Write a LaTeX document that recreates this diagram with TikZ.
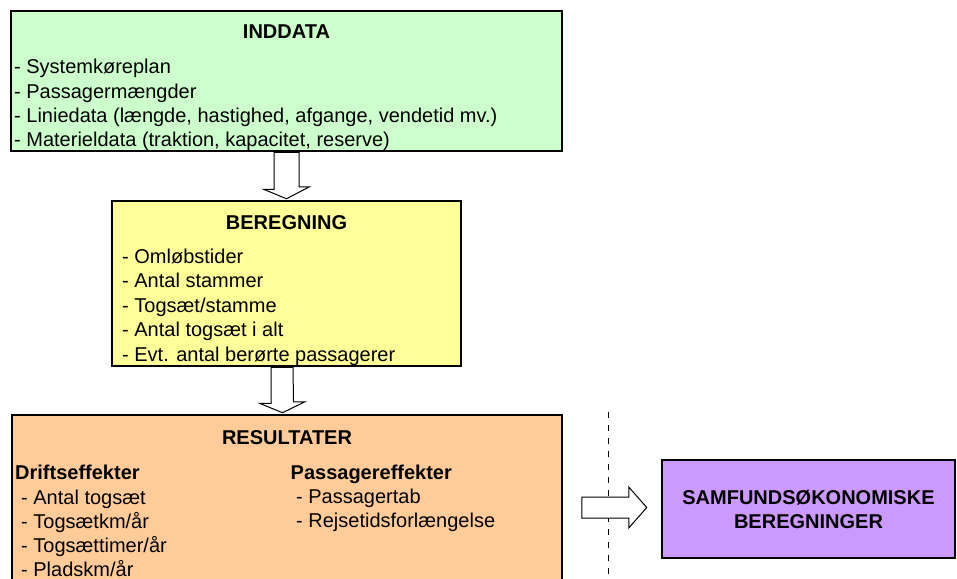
\documentclass[tikz,border=0pt]{standalone}
\usepackage{fontspec}
\setmainfont{Liberation Sans}
\newcommand\diafont{\fontsize{20}{24}\selectfont}
\definecolor{inngreen}{HTML}{CCFFCC}
\definecolor{beregyellow}{HTML}{FFFF99}
\definecolor{resorange}{HTML}{FFCC99}
\definecolor{samfpurple}{HTML}{CC99FF}
\tikzset{
  box/.style={draw,line width=2.5pt,inner sep=0pt},
  title/.style={anchor=base,inner sep=0pt,font=\diafont\bfseries},
  item/.style={anchor=base west,inner sep=0pt,font=\diafont},
  head/.style={item,font=\diafont\bfseries},
  blockarrow/.style={draw,fill=white,line width=1pt,line join=miter},
  sepline/.style={line width=1pt,dash pattern=on 6pt off 7pt}
}
\begin{document}
\begin{tikzpicture}[x=1pt,y=-1pt]
        \useasboundingbox (0,0) rectangle (957,578);
        \clip (0,0) rectangle (957,578);
        %% boxes
        \node[box,fill=inngreen,minimum width=551pt,minimum height=140pt] (inn) at (286.5,81) {};
        \node[box,fill=beregyellow,minimum width=349pt,minimum height=165pt] (beregn) at (286.5,283.5) {};
        \node[box,fill=resorange,minimum width=550pt,minimum height=205pt] (res) at (287,517.5) {};
        \node[box,fill=samfpurple,minimum width=293pt,minimum height=98pt,align=center,font=\diafont\bfseries] (samf) at (808.5,509) {SAMFUNDSØKONOMISKE\\BEREGNINGER};
        %% inddata
        \node[title] (inn-title) at (286.5,38) {INDDATA};
        \foreach \txt [count=\i] in {Systemkøreplan,Passagermængder,{Liniedata (længde, hastighed, afgange, vendetid mv.)},{Materieldata (traktion, kapacitet, reserve)}}
            \node[item] (inn-\i) at (14,50+24*\i) {- \txt};
        %% beregning
        \node[title] (beregn-title) at (286.5,229) {BEREGNING};
        \foreach \txt [count=\i] in {Omløbstider,Antal stammer,Togsæt/stamme,Antal togsæt i alt,Evt. antal berørte passagerer}
            \node[item] (beregn-\i) at (122,238.5+24.5*\i) {- \txt};
        %% resultater
        \node[title] (res-title) at (287,444) {RESULTATER};
        \node[head] (drift) at (15,479) {Driftseffekter};
        \foreach \txt [count=\i] in {Antal togsæt,Togsætkm/år,Togsættimer/år,Pladskm/år}
            \node[item] (drift-\i) at (21,480+24*\i) {- \txt};
        \node[head] (pass) at (290.5,479) {Passagereffekter};
        \foreach \txt [count=\i] in {Passagertab,Rejsetidsforlængelse}
            \node[item] (pass-\i) at (296,479.5+24*\i) {- \txt};
        %% separator
        \draw[sepline] (608,412) -- (608,590);
        %% block arrows
        \draw[blockarrow] ([xshift=-12.5pt]inn.south) -- ++(0,37) -- ++(-10.5,0) -- ([yshift=1pt]beregn.north) -- ++(23,-12) -- ++(-10.5,0) -- ([xshift=12.5pt]inn.south) -- cycle;
        \draw[blockarrow] ([xshift=-15.5pt]beregn.south) -- ++(0,36) -- ++(-11.5,0) -- ([xshift=-4.5pt,yshift=1pt]res.north) -- ++(22.5,-11) -- ++(-11.5,0) -- ([xshift=6.5pt]beregn.south) -- cycle;
        \draw[blockarrow] ([xshift=-14pt,yshift=1.5pt]samf.west) -- ++(-18,-20.5) -- ++(0,10) -- ++(-47,0) -- ++(0,21) -- ++(47,0) -- ++(0,10) -- cycle;
    \end{tikzpicture}
\end{document}
